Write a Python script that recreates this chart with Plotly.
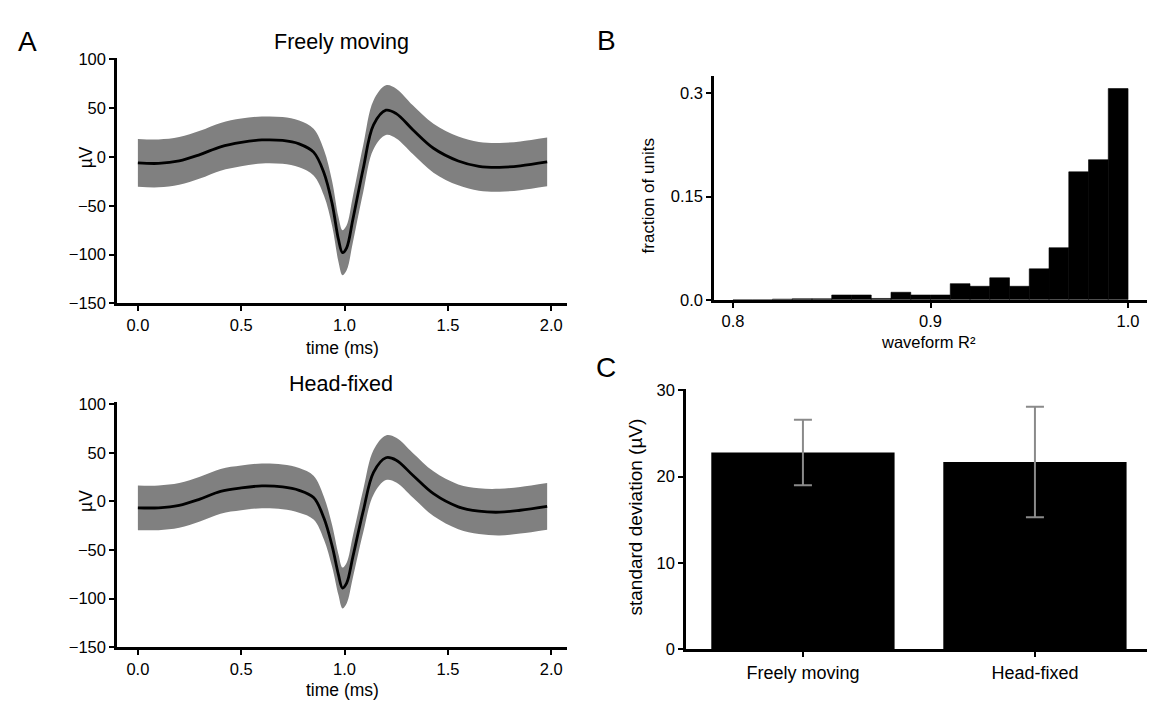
import plotly.graph_objects as go

W, H = 1151, 710
FONT = "Liberation Sans, Arial, sans-serif"

# ---------------- data ----------------
# Panel A: mean waveform (µV) and standard deviation band
time_ms = [0.0, 0.1, 0.2, 0.3, 0.4, 0.5, 0.6, 0.7, 0.78, 0.85, 0.9, 0.94, 0.97, 0.99,
           1.01, 1.04, 1.09, 1.14, 1.2, 1.25, 1.33, 1.43, 1.55, 1.65, 1.75, 1.85, 1.98]
mean_free = [-6, -6.5, -4, 2.5, 10.5, 15, 17.5, 17, 13.5, 5, -16, -48, -84, -98,
             -93, -64, -12, 33, 48, 44.5, 28, 9, -4, -9.5, -10.5, -9, -5]
sd_free = [24.5, 24.5, 24.5, 24.5, 24.5, 24.5, 24, 24, 24, 24, 23.5, 23, 23, 23,
           23, 23.5, 24, 25, 25.5, 25.5, 25, 25, 25, 25, 25, 25, 25]
mean_head = [-6.5, -6.5, -4, 2.5, 10.5, 14, 16, 15, 11.5, 4, -17, -46, -75, -89,
             -84, -57, -10, 30, 45, 42.5, 27, 8, -5.5, -10, -11, -9, -5]
sd_head = [23, 23, 23, 23, 23, 23, 23, 23, 23, 22.5, 22, 21.5, 21, 21,
           21, 21.5, 22, 23, 23, 23, 23, 23, 23, 23.5, 24, 24, 24]

# Panel B: histogram of waveform R^2 (bin left edges, width 0.01)
r2_bin_left = [0.80, 0.81, 0.82, 0.83, 0.84, 0.85, 0.86, 0.87, 0.88, 0.89,
               0.90, 0.91, 0.92, 0.93, 0.94, 0.95, 0.96, 0.97, 0.98, 0.99]
r2_fraction = [0.0, 0.0, 0.001, 0.0015, 0.0015, 0.007, 0.007, 0.002, 0.011, 0.007,
               0.007, 0.0235, 0.0197, 0.032, 0.0197, 0.045, 0.0757, 0.186, 0.2036, 0.307]
R2_BIN = 0.01

# Panel C: standard deviation by condition
conditions = ["Freely moving", "Head-fixed"]
sd_mean = [22.8, 21.7]
sd_err = [3.8, 6.4]


def px_dom_x(a, b):
    return [a / W, b / W]


def px_dom_y(top, bottom):
    return [1 - bottom / H, 1 - top / H]


fig = go.Figure()

BAND = "#808080"


def add_wave(mean, sd, xa, ya):
    upper = [m + s for m, s in zip(mean, sd)]
    lower = [m - s for m, s in zip(mean, sd)]
    fig.add_trace(go.Scatter(x=time_ms, y=upper, mode="lines",
                             line=dict(color=BAND, width=0, shape="spline"),
                             xaxis=xa, yaxis=ya, showlegend=False, hoverinfo="skip"))
    fig.add_trace(go.Scatter(x=time_ms, y=lower, mode="lines", fill="tonexty",
                             fillcolor=BAND,
                             line=dict(color=BAND, width=0, shape="spline"),
                             xaxis=xa, yaxis=ya, showlegend=False, hoverinfo="skip"))
    fig.add_trace(go.Scatter(x=time_ms, y=mean, mode="lines",
                             line=dict(color="black", width=2.8, shape="spline"),
                             xaxis=xa, yaxis=ya, showlegend=False))


add_wave(mean_free, sd_free, "x", "y")
add_wave(mean_head, sd_head, "x2", "y2")

# histogram
fig.add_trace(go.Bar(x=[b + R2_BIN / 2 for b in r2_bin_left], y=r2_fraction,
                     width=R2_BIN, marker=dict(color="black", line=dict(width=0.6, color="black")),
                     xaxis="x3", yaxis="y3", showlegend=False))

# bar chart with error bars
fig.add_trace(go.Bar(x=conditions, y=sd_mean, width=0.79,
                     marker=dict(color="black", line=dict(width=0)),
                     error_y=dict(type="data", array=sd_err, visible=True,
                                  color="#8a8a8a", thickness=2, width=9),
                     xaxis="x4", yaxis="y4", showlegend=False))

TICK = 16.5
axis_common = dict(showline=True, linecolor="black", linewidth=2.5,
                   ticks="outside", ticklen=5, tickwidth=2, tickcolor="black",
                   showgrid=False, zeroline=False,
                   tickfont=dict(family=FONT, size=TICK, color="black"))

tA = [0.0, 0.5, 1.0, 1.5, 2.0]
fig.update_layout(
    width=W, height=H,
    margin=dict(l=0, r=0, t=0, b=0),
    paper_bgcolor="white", plot_bgcolor="white",
    font=dict(family=FONT, color="black"),
    xaxis=dict(domain=px_dom_x(117, 567), range=[-0.101, 2.076], anchor="y",
               tickvals=tA, ticktext=["0.0", "0.5", "1.0", "1.5", "2.0"], **axis_common),
    yaxis=dict(domain=px_dom_y(51.3, 302.7), range=[-150, 101.4], anchor="x",
               tickvals=[-150, -100, -50, 0, 50, 100], **axis_common),
    xaxis2=dict(domain=px_dom_x(117, 567), range=[-0.101, 2.076], anchor="y2",
                tickvals=tA, ticktext=["0.0", "0.5", "1.0", "1.5", "2.0"], **axis_common),
    yaxis2=dict(domain=px_dom_y(404, 655), range=[-150, 102], anchor="x2",
                tickvals=[-150, -100, -50, 0, 50, 100], **axis_common),
    xaxis3=dict(domain=px_dom_x(714, 1147), range=[0.7904, 1.0096], anchor="y3",
                tickvals=[0.8, 0.9, 1.0], ticktext=["0.8", "0.9", "1.0"], **axis_common),
    yaxis3=dict(domain=px_dom_y(70, 299), range=[0, 0.3248], anchor="x3",
                tickvals=[0, 0.15, 0.3], ticktext=["0.0", "0.15", "0.3"], **axis_common),
    xaxis4=dict(domain=px_dom_x(686, 1147), range=[-0.504, 1.483], anchor="y4",
                type="category", **axis_common),
    yaxis4=dict(domain=px_dom_y(390, 657), range=[0, 30.2], anchor="x4",
                tickvals=[0, 10, 20, 30], **axis_common),
)
fig.update_layout(xaxis4_tickfont_size=18)


def ann(text, x, y, size=17.5, angle=0):
    fig.add_annotation(text=text, x=x / W, y=1 - y / H, xref="paper", yref="paper",
                       showarrow=False, textangle=angle, xanchor="center", yanchor="middle",
                       font=dict(family=FONT, size=size, color="black"))


# panel letters
ann("A", 27, 34, size=28)
ann("B", 606, 33, size=28)
ann("C", 606, 368, size=28)
# subplot titles
ann("Freely moving", 341, 35, size=21.5)
ann("Head-fixed", 341, 385, size=21.5)
# axis titles
ann("µV", 86, 153, angle=-90)
ann("time (ms)", 342, 348)
ann("µV", 86, 505, angle=-90)
ann("time (ms)", 342, 699)
ann("fraction of units", 648, 193, size=17, angle=-90)
ann("waveform R²", 928, 342, size=16.5)
ann("standard deviation (µV)", 636, 522, size=19, angle=-90)

fig.write_html("out.html", config={"displayModeBar": False},
               post_script="document.body.style.margin='0';document.body.style.overflow='hidden';")
